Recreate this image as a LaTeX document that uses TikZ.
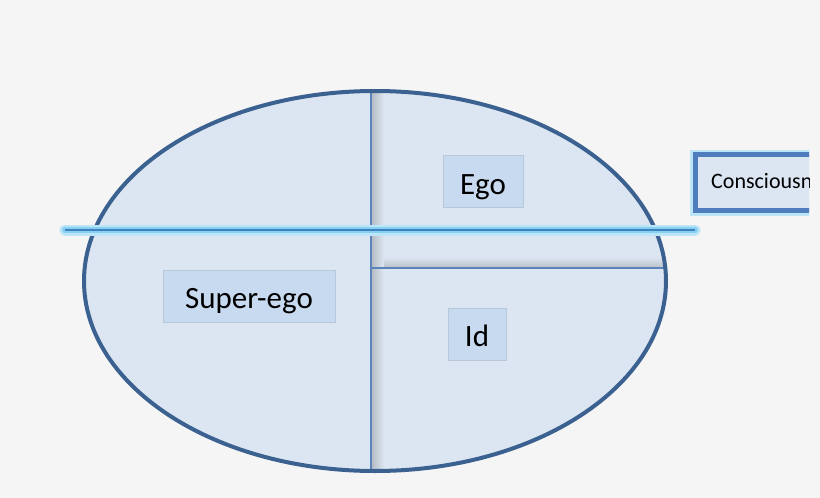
\documentclass[tikz,border=0pt]{standalone}
\usepackage{fontspec}
\setmainfont{Carlito}

\definecolor{bgGray}{HTML}{F5F5F5}
\definecolor{ovalFill}{HTML}{DCE6F2}
\definecolor{ovalLine}{HTML}{3B6190}
\definecolor{splitLine}{HTML}{5C84BA}
\definecolor{labelFill}{HTML}{C8DAF0}
\definecolor{glowBlue}{HTML}{86D0F2}
\definecolor{coreBlue}{HTML}{3F80BE}
\definecolor{boxLine}{HTML}{4F7DBD}

\tikzset{
	part/.style={fill=labelFill,draw=labelFill!80!gray,line width=0.6pt,
		minimum height=52pt,inner sep=0pt,text height=25pt,text depth=0pt,
		font=\fontsize{31}{37}\selectfont},
	split/.style={splitLine,line width=1.6pt}
}

\begin{document}
\begin{tikzpicture}[x=1pt,y=-1pt]
	\def\cx{375}
	\def\cy{281}
	\def\rx{291}
	\def\ry{190}
	\def\lev{230} % level of the glowing line
	
	\fill[bgGray] (0,0) rectangle (820,498);
	\useasboundingbox (0,0) rectangle (820,498);
	
	\fill[ovalFill] (\cx,\cy) ellipse [x radius=\rx, y radius=\ry];
	\begin{scope}
		\clip (\cx,\cy) ellipse [x radius=\rx, y radius=\ry];
		\shade[top color=ovalFill, bottom color=gray!35!ovalFill] (372,257) rectangle (690,267);
		\shade[left color=gray!40!ovalFill, right color=ovalFill] (372,60) rectangle (384,490);
		\draw[split] (371,70) -- (371,490);
		\draw[split] (371,268) -- (690,268);
	\end{scope}
	\draw[ovalLine,line width=4pt] (\cx,\cy) ellipse [x radius=\rx, y radius=\ry];
	
	% glowing line
	\coordinate (lineL) at (65,\lev);
	\coordinate (lineR) at (695,\lev);
	\draw[glowBlue!55,line width=11pt,line cap=round] (lineL) -- (lineR);
	\draw[glowBlue,line width=6pt,line cap=round] (lineL) -- (lineR);
	\draw[coreBlue,line width=1.8pt] (lineL) -- (lineR);
	
	\node[part,minimum width=80pt] (ego) at (483,181.5) {Ego};
	\node[part,minimum width=172pt] (superego) at (249,296) {Super-ego};
	\node[part,minimum width=58pt] (id) at (477,334) {Id};
	
	% box cut at the right edge
	\begin{scope}
		\clip (680,140) rectangle (809,225);
		\draw[glowBlue!55,line width=10pt] (695,154.5) rectangle (830,210.5);
		\draw[boxLine,fill=ovalFill,line width=5pt] (695,154.5) rectangle (830,210.5);
		\node[anchor=west,inner sep=0pt,font=\fontsize{22}{26}\selectfont] (cons) at (711,181.5) {Consciousness};
	\end{scope}
\end{tikzpicture}
\end{document}
